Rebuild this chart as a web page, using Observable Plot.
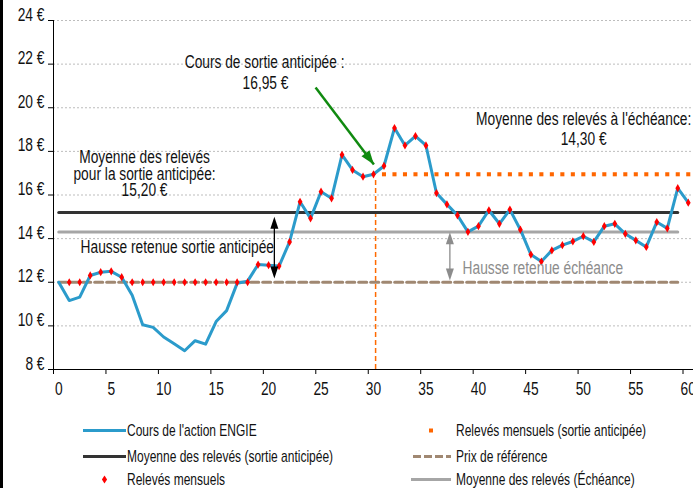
<!DOCTYPE html>
<html><head><meta charset="utf-8">
<script src="https://cdn.jsdelivr.net/npm/d3@7"></script>
<script src="https://cdn.jsdelivr.net/npm/@observablehq/plot@0.6"></script>
<style>
html,body{margin:0;padding:0;background:#fff;}
#wrap{position:relative;width:693px;height:488px;overflow:hidden;font-family:"Liberation Sans",Arial,sans-serif;color:#111;}
#bar{position:absolute;left:0;top:0;width:3px;height:488px;background:#000;}
.lg{position:absolute;display:flex;align-items:center;font-size:15px;transform:translateY(-50%);white-space:nowrap;}
.lg span{display:inline-block;transform:scale(0.8,1.12);transform-origin:left center;}
.lg svg{display:block;}
</style></head><body>
<div id="wrap"><div id="chart"></div><div id="legend"></div><div id="bar"></div></div>
<script>
// Categories (months)
const months = [0,1,2,3,4,5,6,7,8,9,10,11,12,13,14,15,16,17,18,19,20,21,22,23,24,25,26,27,28,29,30,31,32,33,34,35,36,37,38,39,40,41,42,43,44,45,46,47,48,49,50,51,52,53,54,55,56,57,58,59,60];
// Cours de l'action ENGIE
const price = [12.0,11.16,11.32,12.31,12.46,12.5,12.23,11.4,10.05,9.93,9.49,9.18,8.86,9.32,9.16,10.2,10.7,11.95,12.05,12.81,12.78,12.74,13.85,15.69,14.93,16.15,15.85,17.84,17.15,16.84,16.95,17.33,19.07,18.27,18.7,18.27,16.09,15.57,15.07,14.31,14.57,15.3,14.68,15.33,14.41,13.27,12.95,13.46,13.7,13.87,14.11,13.85,14.57,14.68,14.22,13.92,13.62,14.76,14.47,16.31,15.65];
// Relevés mensuels (months 1..60)
const releveMonths = [1,2,3,4,5,6,7,8,9,10,11,12,13,14,15,16,17,18,19,20,21,22,23,24,25,26,27,28,29,30,31,32,33,34,35,36,37,38,39,40,41,42,43,44,45,46,47,48,49,50,51,52,53,54,55,56,57,58,59,60];
const releves = [12,12,12.31,12.46,12.5,12.23,12,12,12,12,12,12,12,12,12,12,12,12,12.81,12.78,12.74,13.85,15.69,14.93,16.15,15.85,17.84,17.15,16.84,16.95,17.33,19.07,18.27,18.7,18.27,16.09,15.57,15.07,14.31,14.57,15.3,14.68,15.33,14.41,13.27,12.95,13.46,13.7,13.87,14.11,13.85,14.57,14.68,14.22,13.92,13.62,14.76,14.47,16.31,15.65];
// Relevés mensuels (sortie anticipée)
const sortieMonths = [31,32,33,34,35,36,37,38,39,40,41,42,43,44,45,46,47,48,49,50,51,52,53,54,55,56,57,58,59,60];
const sortieValues = [16.95,16.95,16.95,16.95,16.95,16.95,16.95,16.95,16.95,16.95,16.95,16.95,16.95,16.95,16.95,16.95,16.95,16.95,16.95,16.95,16.95,16.95,16.95,16.95,16.95,16.95,16.95,16.95,16.95,16.95];
// Reference levels
const moyenneSortie = 15.20;
const moyenneEcheance = 14.30;
const prixReference = 12.00;
const levelSpan = [0, 59];
// Axis ticks
const yTicks = [8,10,12,14,16,18,20,22,24];
const xLabels = [0,5,10,15,20,25,30,35,40,45,50,55,60];
const xTickMarks = [-0.5,4.5,9.5,14.5,19.5,24.5,29.5,34.5,39.5,44.5,49.5,54.5,59.5];
// Annotations
const notesCenter = [
  {x: 19.62, y: 21.80, text: "Cours de sortie anticipée :"},
  {x: 19.71, y: 20.88, text: "16,95 €"},
  {x: 8.18, y: 17.46, text: "Moyenne des relevés"},
  {x: 8.18, y: 16.68, text: "pour la sortie anticipée:"},
  {x: 8.18, y: 15.95, text: "15,20 €"},
  {x: 50.03, y: 19.23, text: "Moyenne des relevés à l'échéance:"},
  {x: 50.03, y: 18.30, text: "14,30 €"}
];
const notesStart = [{x: 2.08, y: 13.36, text: "Hausse retenue sortie anticipée"}];
const notesGray = [{x: 38.49, y: 12.40, text: "Hausse retenue échéance"}];
const exitMonth = 30.2;
const blackArrow = {x: 20.55, top: 15.0, bottom: 12.17};
const grayArrow = {x: 37.28, top: 14.29, bottom: 12.08};
const greenArrow = {x1: 24.48, y1: 20.93, x2: 30.04, y2: 17.40};

const priceData = months.map((m, i) => ({m, v: price[i]}));
const releveData = releveMonths.map((m, i) => ({m, v: releves[i]}));
const sortieData = sortieMonths.map((m, i) => ({m, v: sortieValues[i]}));
const lvl = (v) => levelSpan.map(m => ({m, v}));

const blue = "#2b9bcb", dark = "#333333", gray = "#a6a6a6", brown = "#a08872", orange = "#ff6600", red = "#ff0000", green = "#108a10";

const chart = Plot.plot({
  width: 693, height: 405,
  marginLeft: 53, marginRight: 0, marginTop: 20, marginBottom: 36,
  style: {fontFamily: '"Liberation Sans",Arial,sans-serif', fontSize: "16px", color: "#111", background: "#fff"},
  x: {domain: [-0.5, 60.5], axis: null},
  y: {domain: [8, 24], axis: null},
  marks: [
    Plot.ruleY(yTicks.filter(d => d > 8), {stroke: "#bdbdbd", strokeDasharray: "2,2", strokeWidth: 1}),
    Plot.ruleX([-0.5], {stroke: "#000", strokeWidth: 1}),
    Plot.ruleY([8], {stroke: "#000", strokeWidth: 1}),
    Plot.axisY({ticks: yTicks, tickFormat: d => `${d} €`, tickSize: 5, tickPadding: 4, fontSize: 16, stroke: "#000"}),
    Plot.axisX({ticks: xLabels, tickSize: 0, tickPadding: 25, fontSize: 16, tickFormat: d => `${d}`}),
    Plot.axisX({ticks: xTickMarks, tickSize: 5, tickFormat: () => "", stroke: "#000"}),
    // vertical exit line
    Plot.ruleX([exitMonth], {y1: 8, y2: 16.7, stroke: "#ff6a00", strokeWidth: 1.5, strokeDasharray: "5,3"}),
    // reference levels
    Plot.line(lvl(prixReference), {x: "m", y: "v", stroke: brown, strokeWidth: 3, strokeDasharray: "8,4"}),
    Plot.line(lvl(moyenneEcheance), {x: "m", y: "v", stroke: gray, strokeWidth: 3}),
    Plot.line(lvl(moyenneSortie), {x: "m", y: "v", stroke: dark, strokeWidth: 3}),
    // sortie anticipée squares
    Plot.dot(sortieData, {x: "m", y: "v", symbol: "square", fill: orange, r: 2.3}),
    // price line
    Plot.line(priceData, {x: "m", y: "v", stroke: blue, strokeWidth: 3, strokeLinejoin: "round"}),
    Plot.dot(releveData, {x: "m", y: "v", symbol: "diamond", fill: red, r: 2.5}),
    // arrows
    Plot.ruleX([blackArrow.x], {y1: blackArrow.top - 0.2, y2: blackArrow.bottom + 0.2, stroke: "#000", strokeWidth: 1.3}),
    Plot.vector([blackArrow], {x: "x", y: "top", shape: "spike", anchor: "end", length: 12, r: 4, rotate: 0, fill: "#000", stroke: "none"}),
    Plot.vector([blackArrow], {x: "x", y: "bottom", shape: "spike", anchor: "end", length: 12, r: 4, rotate: 180, fill: "#000", stroke: "none"}),
    Plot.ruleX([grayArrow.x], {y1: grayArrow.top - 0.2, y2: grayArrow.bottom + 0.2, stroke: "#8c8c8c", strokeWidth: 1.3}),
    Plot.vector([grayArrow], {x: "x", y: "top", shape: "spike", anchor: "end", length: 12, r: 4, rotate: 0, fill: "#8c8c8c", stroke: "none"}),
    Plot.vector([grayArrow], {x: "x", y: "bottom", shape: "spike", anchor: "end", length: 12, r: 4, rotate: 180, fill: "#8c8c8c", stroke: "none"}),
    Plot.link([greenArrow], {x1: "x1", y1: "y1", x2: "x2", y2: "y2", stroke: green, strokeWidth: 2.5}),
    Plot.vector([greenArrow], {x: "x2", y: "y2", shape: "spike", anchor: "end", length: 14, r: 5, rotate: 143, fill: green, stroke: "none"}),
    // annotations
    Plot.text(notesCenter, {x: "x", y: "y", text: "text", textAnchor: "middle", fontSize: 16, fill: "#111"}),
    Plot.text(notesStart, {x: "x", y: "y", text: "text", textAnchor: "start", fontSize: 16, fill: "#111"}),
    Plot.text(notesGray, {x: "x", y: "y", text: "text", textAnchor: "start", fontSize: 16, fill: "#8c8c8c"})
  ]
});
// Narrow, tall lettering like the reference (scale each text around its own anchor)
chart.querySelectorAll("text").forEach(t => {
  const x = t.getAttribute("x"), y = t.getAttribute("y");
  let tr = t.getAttribute("transform") || "";
  if (x !== null || y !== null) {
    tr += ` translate(${+x || 0},${+y || 0})`;
    t.removeAttribute("x"); t.removeAttribute("y");
  }
  t.setAttribute("transform", (tr + " scale(0.86,1.12)").trim());
});
document.getElementById("chart").appendChild(chart);

// Legend
const legendItems = [
  {label: "Cours de l'action ENGIE", kind: "line", color: blue, left: 83, cy: 430},
  {label: "Moyenne des relevés (sortie anticipée)", kind: "line", color: dark, left: 83, cy: 456},
  {label: "Relevés mensuels", kind: "diamond", color: red, left: 83, cy: 479},
  {label: "Relevés mensuels (sortie anticipée)", kind: "square", color: orange, left: 411, cy: 430},
  {label: "Prix de référence", kind: "dash", color: brown, left: 411, cy: 456},
  {label: "Moyenne des relevés (Échéance)", kind: "line", color: gray, left: 411, cy: 479}
];
const legend = document.getElementById("legend");
legendItems.forEach(it => {
  const d = document.createElement("div");
  d.className = "lg";
  d.style.left = it.left + "px";
  d.style.top = it.cy + "px";
  const w = it.left < 200 ? 43 : 40;
  let sym = "";
  if (it.kind === "line") sym = `<line x1="0" y1="6" x2="${w}" y2="6" stroke="${it.color}" stroke-width="3"/>`;
  if (it.kind === "dash") sym = `<line x1="2" y1="6" x2="${w}" y2="6" stroke="${it.color}" stroke-width="3" stroke-dasharray="8,3"/>`;
  if (it.kind === "diamond") sym = `<path d="M${w/2},2 L${w/2+2.6},6 L${w/2},10 L${w/2-2.6},6 Z" fill="${it.color}"/>`;
  if (it.kind === "square") sym = `<rect x="${w/2-2}" y="4" width="4" height="4" fill="${it.color}"/>`;
  d.innerHTML = `<svg width="${w}" height="12">${sym}</svg><span style="margin-left:${it.left < 200 ? 1 : 5}px">${it.label}</span>`;
  legend.appendChild(d);
});
</script>
</body></html>
